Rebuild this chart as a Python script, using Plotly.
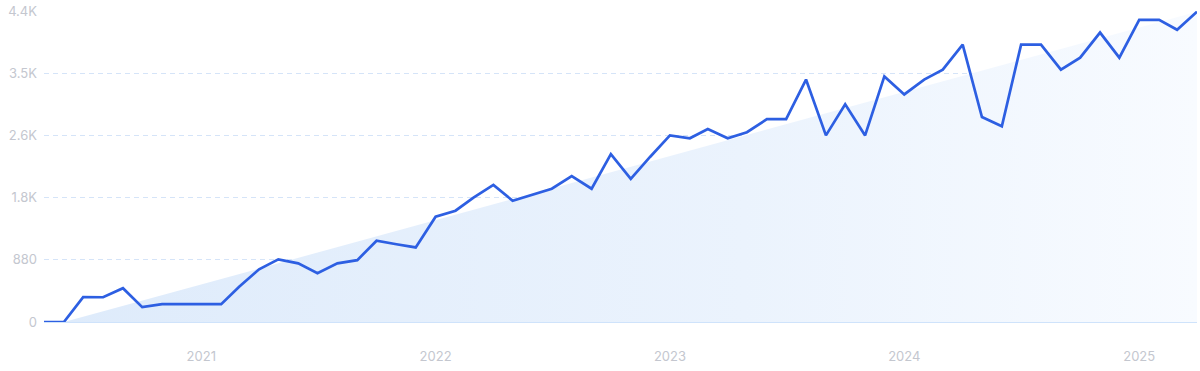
import plotly.graph_objects as go
import pandas as pd

# Monthly values, May 2020 – April 2025
months = pd.date_range("2020-05-01", "2025-04-01", freq="MS")
values = [
    0, 0, 352, 350, 478, 211, 253, 253, 253, 253,
    500, 745, 886, 830, 690, 830, 875, 1150, 1100, 1055,
    1490, 1575, 1760, 1940, 1715, 1800, 1885, 2065, 1885, 2375,
    2025, 2335, 2640, 2600, 2730, 2600, 2685, 2870, 2870, 3430,
    2640, 3080, 2640, 3475, 3220, 3430, 3570, 3925, 2900, 2770,
    3925, 3925, 3570, 3740, 4095, 3740, 4275, 4275, 4135, 4390,
]

y_tick_vals = [0, 880, 1760, 2640, 3520, 4400]
y_tick_text = ["0", "880", "1.8K", "2.6K", "3.5K", "4.4K"]
x_tick_vals = pd.to_datetime(["2021-01-01", "2022-01-01", "2023-01-01", "2024-01-01", "2025-01-01"])
x_tick_text = ["2021", "2022", "2023", "2024", "2025"]

# trend from the second point to the last point
trend_x = [months[1], months[-1]]
trend_y = [values[1], values[-1]]

fig = go.Figure()
fig.add_trace(go.Scatter(
    x=trend_x, y=trend_y, mode="lines",
    line=dict(width=0, color="rgba(0,0,0,0)"),
    fill="tozeroy",
    fillgradient=dict(type="horizontal",
                      colorscale=[[0, "rgb(222,235,251)"], [0.6, "rgb(235,243,253)"], [1, "rgb(248,251,255)"]]),
    hoverinfo="skip", showlegend=False,
))
fig.add_trace(go.Scatter(
    x=months, y=values, mode="lines",
    line=dict(color="#2d5fe2", width=2.7),
    showlegend=False,
))

font_col = "#c4c7cf"
fig.update_layout(
    width=1200, height=371,
    margin=dict(l=44, r=3, t=9, b=49),
    paper_bgcolor="white", plot_bgcolor="white",
    font=dict(family="Inter, Roboto, sans-serif", size=13, color=font_col),
)
fig.update_xaxes(
    range=[months[0], months[-1]],
    tickvals=x_tick_vals, ticktext=x_tick_text,
    showgrid=False, zeroline=False,
    showline=True, linecolor="#cfe3fb", linewidth=1.2,
    ticks="", ticklabelstandoff=22,
    tickfont=dict(size=13, color=font_col),
)
fig.update_yaxes(
    range=[0, 4400],
    tickvals=y_tick_vals, ticktext=y_tick_text,
    showgrid=True, gridcolor="#d5e4f8", gridwidth=1, griddash="5px,4px",
    zeroline=False, showline=False, ticks="",
    ticklabelstandoff=6,
    tickfont=dict(size=13, color=font_col),
)

fig.write_html("out.html", config={"displayModeBar": False},
               post_script="document.body.style.margin='0';document.body.style.padding='0';")
